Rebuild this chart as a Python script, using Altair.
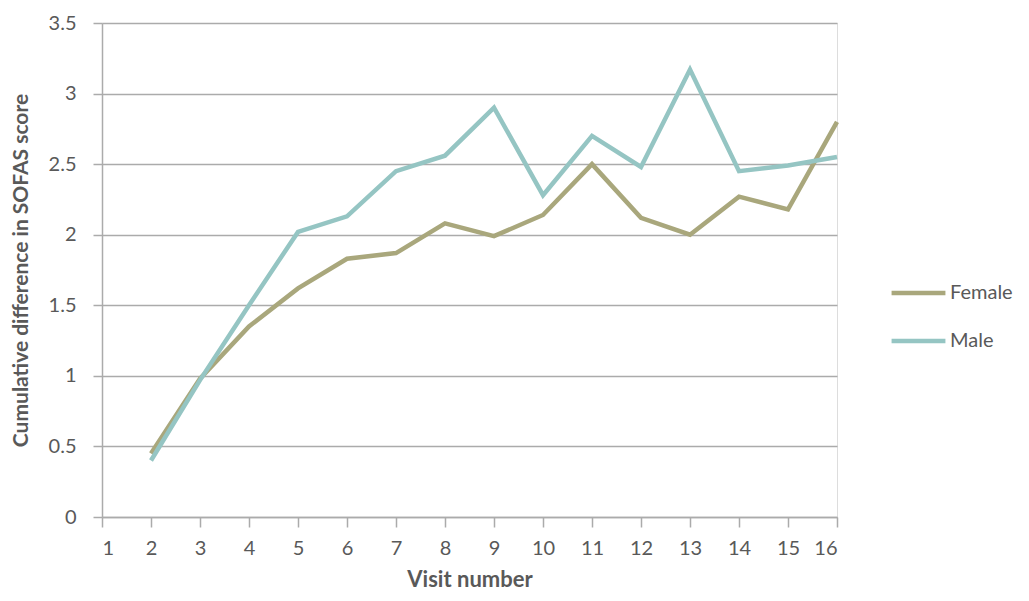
import altair as alt
import pandas as pd

visits = list(range(2, 17))
female = [0.45, 0.98, 1.35, 1.62, 1.83, 1.87, 2.08, 1.99, 2.14, 2.50, 2.12, 2.00, 2.27, 2.18, 2.80]
male = [0.40, 0.97, 1.50, 2.02, 2.13, 2.45, 2.56, 2.90, 2.28, 2.70, 2.48, 3.17, 2.45, 2.49, 2.55]

rows = []
for v, f in zip(visits, female):
    rows.append({"visit": v, "value": f, "sex": "Female"})
for v, m in zip(visits, male):
    rows.append({"visit": v, "value": m, "sex": "Male"})
df = pd.DataFrame(rows)

FONT = "Lato"
GRAY = "#595959"
GRID = "#ababab"

chart = alt.Chart(df).mark_line(strokeWidth=4.5, strokeJoin="miter").encode(
    x=alt.X("visit:Q",
            scale=alt.Scale(domain=[1, 16], nice=False),
            axis=alt.Axis(values=list(range(1, 17)), title="Visit number", format="d",
                          grid=False, tickSize=10, tickColor=GRID, tickWidth=1.5,
                          domainColor=GRID, domainWidth=1.5,
                          labelFontSize=20, labelColor=GRAY, labelPadding=11,
                          labelFont=FONT, titleFont=FONT, titleFontSize=22,
                          titleFontWeight="bold", titleColor=GRAY, titlePadding=11)),
    y=alt.Y("value:Q",
            scale=alt.Scale(domain=[0, 3.5], nice=False),
            axis=alt.Axis(values=[0, 0.5, 1, 1.5, 2, 2.5, 3, 3.5], format="~g",
                          title="Cumulative difference in SOFAS score",
                          grid=True, gridColor=GRID, gridWidth=1.5,
                          tickSize=9, tickColor=GRID, tickWidth=1.5,
                          domainColor=GRID, domainWidth=1.5,
                          labelFontSize=20, labelColor=GRAY, labelPadding=17,
                          labelFont=FONT, titleFont=FONT, titleFontSize=21,
                          titleFontWeight="bold", titleColor=GRAY, titlePadding=17)),
    color=alt.Color("sex:N",
                    scale=alt.Scale(domain=["Female", "Male"], range=["#a9a77c", "#95c5c3"]),
                    legend=alt.Legend(title=None, orient="none", legendX=787, legendY=260,
                                      symbolType="stroke", symbolSize=2900,
                                      symbolStrokeWidth=4.5, clipHeight=20, rowPadding=28,
                                      labelFontSize=20, labelColor=GRAY, labelFont=FONT,
                                      labelOffset=2)),
).properties(
    width=735, height=494,
    autosize=alt.AutoSizeParams(type="none"),
    padding={"left": 94, "top": 15, "right": 184, "bottom": 76},
).configure_view(stroke=None).configure(background="white")

chart.save("out.html", embed_options={"renderer": "svg", "actions": False})
